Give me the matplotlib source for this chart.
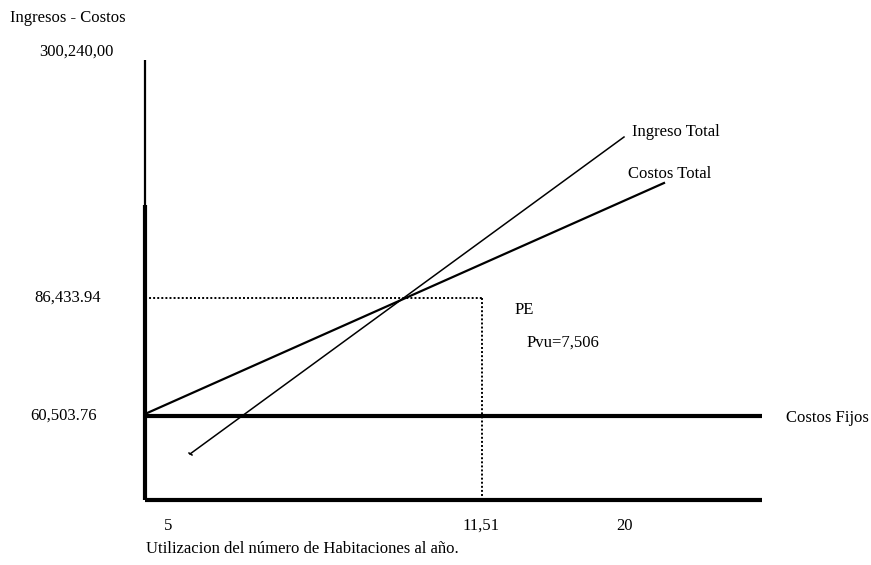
import matplotlib
matplotlib.use("Agg")
import matplotlib.pyplot as plt

plt.rcParams['font.family'] = ['Liberation Serif', 'DejaVu Serif']

# Schematic break-even diagram (positions in the drawing's own schematic units)
y_axis_x = 145
x_axis_y = 500
y_axis_top_thin = [60, 205]
y_axis_thick = [205, 500]
x_axis_span = [145, 762]

costos_fijos_y = 416
costos_fijos_span = [145, 762]

costos_total_x = [145, 664]
costos_total_y = [414, 183]

ingreso_total_x = [190, 624]
ingreso_total_y = [454, 137]

pe_x = 482
pe_y = 298

y_tick_labels = ["300,240,00", "86,433.94", "60,503.76"]
y_tick_pos = [52, 298, 416]
y_tick_x = [39, 34, 30]

x_tick_labels = ["5", "11,51", "20"]
x_tick_pos = [168, 481, 624]

fig = plt.figure(figsize=(8.71, 5.65), dpi=100)
ax = fig.add_axes([0, 0, 1, 1])
ax.set_xlim(0, 871)
ax.set_ylim(565, 0)
ax.axis('off')

fs = 12
# axes
ax.plot([y_axis_x, y_axis_x], y_axis_top_thin, color='black', lw=1.6, solid_capstyle='butt')
ax.plot([y_axis_x, y_axis_x], y_axis_thick, color='black', lw=3.0, solid_capstyle='butt')
ax.plot(x_axis_span, [x_axis_y, x_axis_y], color='black', lw=3.0, solid_capstyle='butt')

# fixed costs
ax.plot(costos_fijos_span, [costos_fijos_y, costos_fijos_y], color='black', lw=3.0, solid_capstyle='butt')
# total cost
ax.plot(costos_total_x, costos_total_y, color='black', lw=1.6)
# total revenue
ax.plot(ingreso_total_x, ingreso_total_y, color='black', lw=1.1)
ax.plot([ingreso_total_x[0]-1, ingreso_total_x[0]+2], [ingreso_total_y[0]-1, ingreso_total_y[0]+1], color='black', lw=1.1)

# break-even dotted guides
ax.plot([y_axis_x, pe_x], [pe_y, pe_y], color='black', lw=1.4, linestyle=(0, (1, 1.1)))
ax.plot([pe_x, pe_x], [pe_y, x_axis_y], color='black', lw=1.4, linestyle=(0, (1, 1.1)))

# texts
ax.text(10, 18, "Ingresos - Costos", fontsize=fs, ha='left', va='center')
for lab, yp, xp in zip(y_tick_labels, y_tick_pos, y_tick_x):
    ax.text(xp, yp, lab, fontsize=fs, ha='left', va='center')
for lab, xp in zip(x_tick_labels, x_tick_pos):
    ax.text(xp, 526, lab, fontsize=fs, ha='center', va='center')
ax.text(146, 549, "Utilizacion del número de Habitaciones al año.", fontsize=fs, ha='left', va='center')
ax.text(515, 310, "PE", fontsize=fs, ha='left', va='center')
ax.text(527, 343, "Pvu=7,506", fontsize=fs, ha='left', va='center')
ax.text(632, 132, "Ingreso Total", fontsize=fs, ha='left', va='center')
ax.text(628, 174, "Costos Total", fontsize=fs, ha='left', va='center')
ax.text(786, 418, "Costos Fijos", fontsize=fs, ha='left', va='center')

fig.savefig("out.png", dpi=100)
